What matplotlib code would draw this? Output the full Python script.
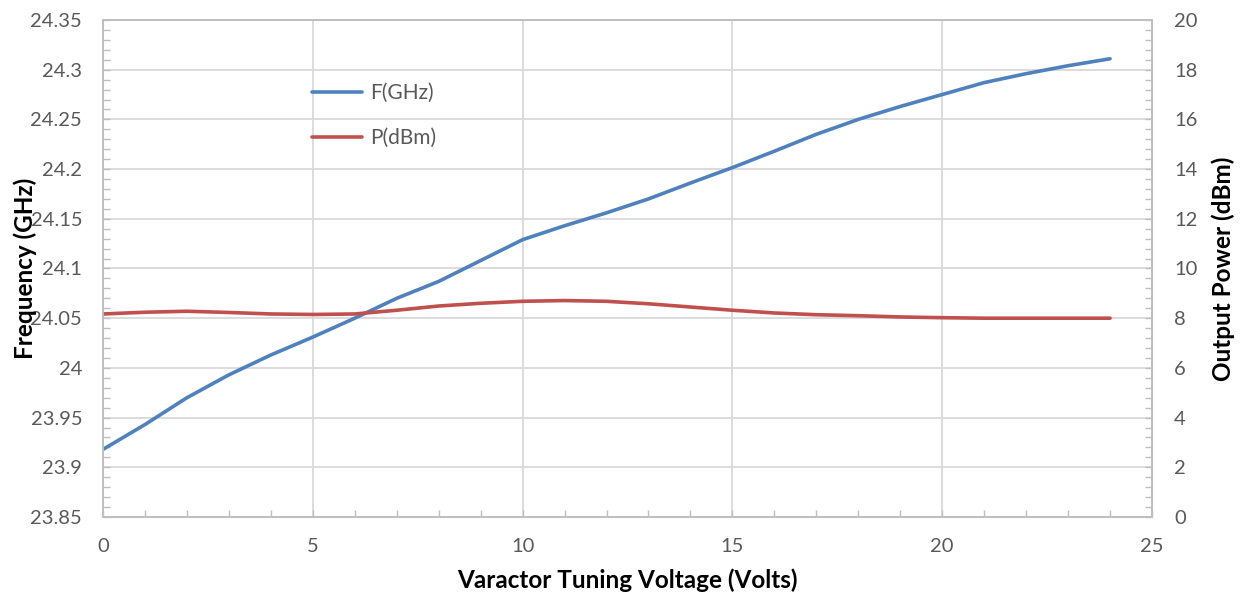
import numpy as np
import matplotlib
matplotlib.use("Agg")
import matplotlib.pyplot as plt
from matplotlib.ticker import MultipleLocator, FormatStrFormatter

plt.rcParams['font.family'] = ['Lato', 'DejaVu Sans']

# varactor voltage (V)
volts = list(range(0, 25))
# frequency (GHz)
freq_ghz = [23.918, 23.943, 23.970, 23.993, 24.013, 24.031, 24.050, 24.070,
            24.087, 24.108, 24.129, 24.143, 24.156, 24.170, 24.186, 24.2015,
            24.218, 24.235, 24.250, 24.263, 24.275, 24.287, 24.296, 24.304,
            24.311]
# output power (dBm)
power_dbm = [8.17, 8.24, 8.28, 8.23, 8.17, 8.15, 8.17, 8.32, 8.49, 8.60,
             8.68, 8.71, 8.68, 8.58, 8.45, 8.32, 8.21, 8.14, 8.10, 8.05,
             8.02, 8.00, 8.00, 8.00, 8.00]

blue = '#4F81BD'
red = '#C0504D'
grid_c = '#D9D9D9'
spine_c = '#BFBFBF'
tick_c = '#595959'

fig = plt.figure(figsize=(12.41, 5.95), dpi=100)
ax = fig.add_axes([0.083, 0.1311, 0.8453, 0.8353])
ax2 = ax.twinx()

l1, = ax.plot(volts, freq_ghz, color=blue, lw=2.6, label='F(GHz)', solid_capstyle='round')
l2, = ax2.plot(volts, power_dbm, color=red, lw=2.6, label='P(dBm)', solid_capstyle='round')

ax.set_xlim(0, 25)
ax.set_ylim(23.85, 24.35)
ax2.set_ylim(0, 20)

ax.xaxis.set_major_locator(MultipleLocator(5))
ax.xaxis.set_minor_locator(MultipleLocator(1))
ax.yaxis.set_major_locator(MultipleLocator(0.05))
ax.yaxis.set_minor_locator(MultipleLocator(0.01))
ax.yaxis.set_major_formatter(FormatStrFormatter('%g'))
ax2.yaxis.set_major_locator(MultipleLocator(2))
ax2.yaxis.set_minor_locator(MultipleLocator(0.4))

ax.grid(True, which='major', color=grid_c, lw=1.3)
ax.set_axisbelow(True)

for a in (ax, ax2):
    for s in a.spines.values():
        s.set_color(spine_c)
        s.set_linewidth(1.3)
    a.tick_params(which='both', direction='in', color=spine_c, width=1.0,
                  labelcolor=tick_c, labelsize=14.5, length=5)
ax.tick_params(axis='x', pad=15)
ax.tick_params(axis='y', pad=15)
ax2.tick_params(axis='y', pad=16)

ax.set_xlabel('Varactor Tuning Voltage (Volts)', fontsize=17.5, fontweight='bold', va='top')
ax.set_ylabel('Frequency (GHz)', fontsize=17.5, fontweight='bold', va='bottom')
ax2.set_ylabel('Output Power (dBm)', fontsize=17.5, fontweight='bold', va='top')
ax.xaxis.set_label_coords(0.5, -0.103)
ax.yaxis.set_label_coords(-0.063, 0.5)
ax2.yaxis.set_label_coords(1.057, 0.5)

leg = ax2.legend(handles=[l1, l2], loc='upper left', bbox_to_anchor=(0.181, 0.911),
                 frameon=False, fontsize=15, handlelength=2.4, labelspacing=1.2,
                 handletextpad=0.4, labelcolor=tick_c)

fig.savefig('out.png', dpi=100, facecolor='white')
